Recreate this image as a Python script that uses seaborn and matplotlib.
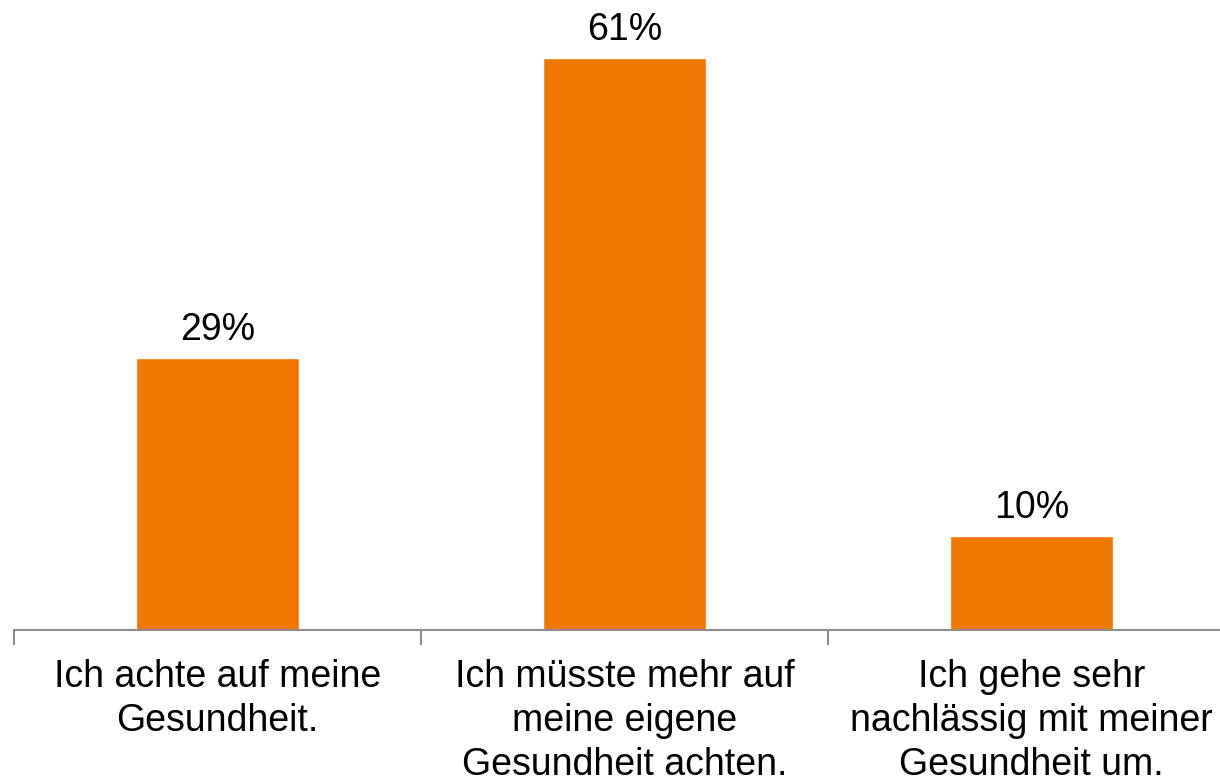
import matplotlib
matplotlib.use("Agg")
import matplotlib.pyplot as plt
import seaborn as sns
import pandas as pd

categories = [
    "Ich achte auf meine\nGesundheit.",
    "Ich müsste mehr auf\nmeine eigene\nGesundheit achten.",
    "Ich gehe sehr\nnachlässig mit meiner\nGesundheit um.",
]
shares = [29, 61, 10]

sns.set_theme(style="white")
plt.rcParams["font.family"] = ["Liberation Sans", "DejaVu Sans"]

df = pd.DataFrame({"answer": categories, "share": shares})

fig = plt.figure(figsize=(12.2, 7.77), dpi=100)
# axis runs past the right edge, as in the reference
ax = fig.add_axes([14 / 1220, 1 - 630 / 777, 1221 / 1220, 630 / 777])
sns.barplot(data=df, x="answer", y="share", color="#F07800", saturation=1,
            width=0.4, ax=ax)

for i, v in enumerate(shares):
    ax.text(i, v + 1.93, f"{v}%", ha="center", va="baseline", fontsize=27, color="black")

ax.set_xlim(-0.5, 2.5)
ax.set_ylim(0, 67.2)
ax.set_xlabel("")
ax.set_ylabel("")
ax.set_yticks([])
ax.set_xticks([0, 1, 2])
ax.set_xticklabels(categories, linespacing=1.28)
ax.set_xticks([-0.5, 0.5, 1.5, 2.5], minor=True)
ax.tick_params(axis="x", which="major", bottom=False, length=0, pad=21,
               labelsize=27, labelcolor="black")
ax.tick_params(axis="x", which="minor", bottom=True, length=11, width=1.5,
               color="#8c8c8c", direction="out")
for side in ["top", "right", "left"]:
    ax.spines[side].set_visible(False)
ax.spines["bottom"].set_color("#8c8c8c")
ax.spines["bottom"].set_linewidth(1.5)

fig.savefig("out.png", dpi=100)
